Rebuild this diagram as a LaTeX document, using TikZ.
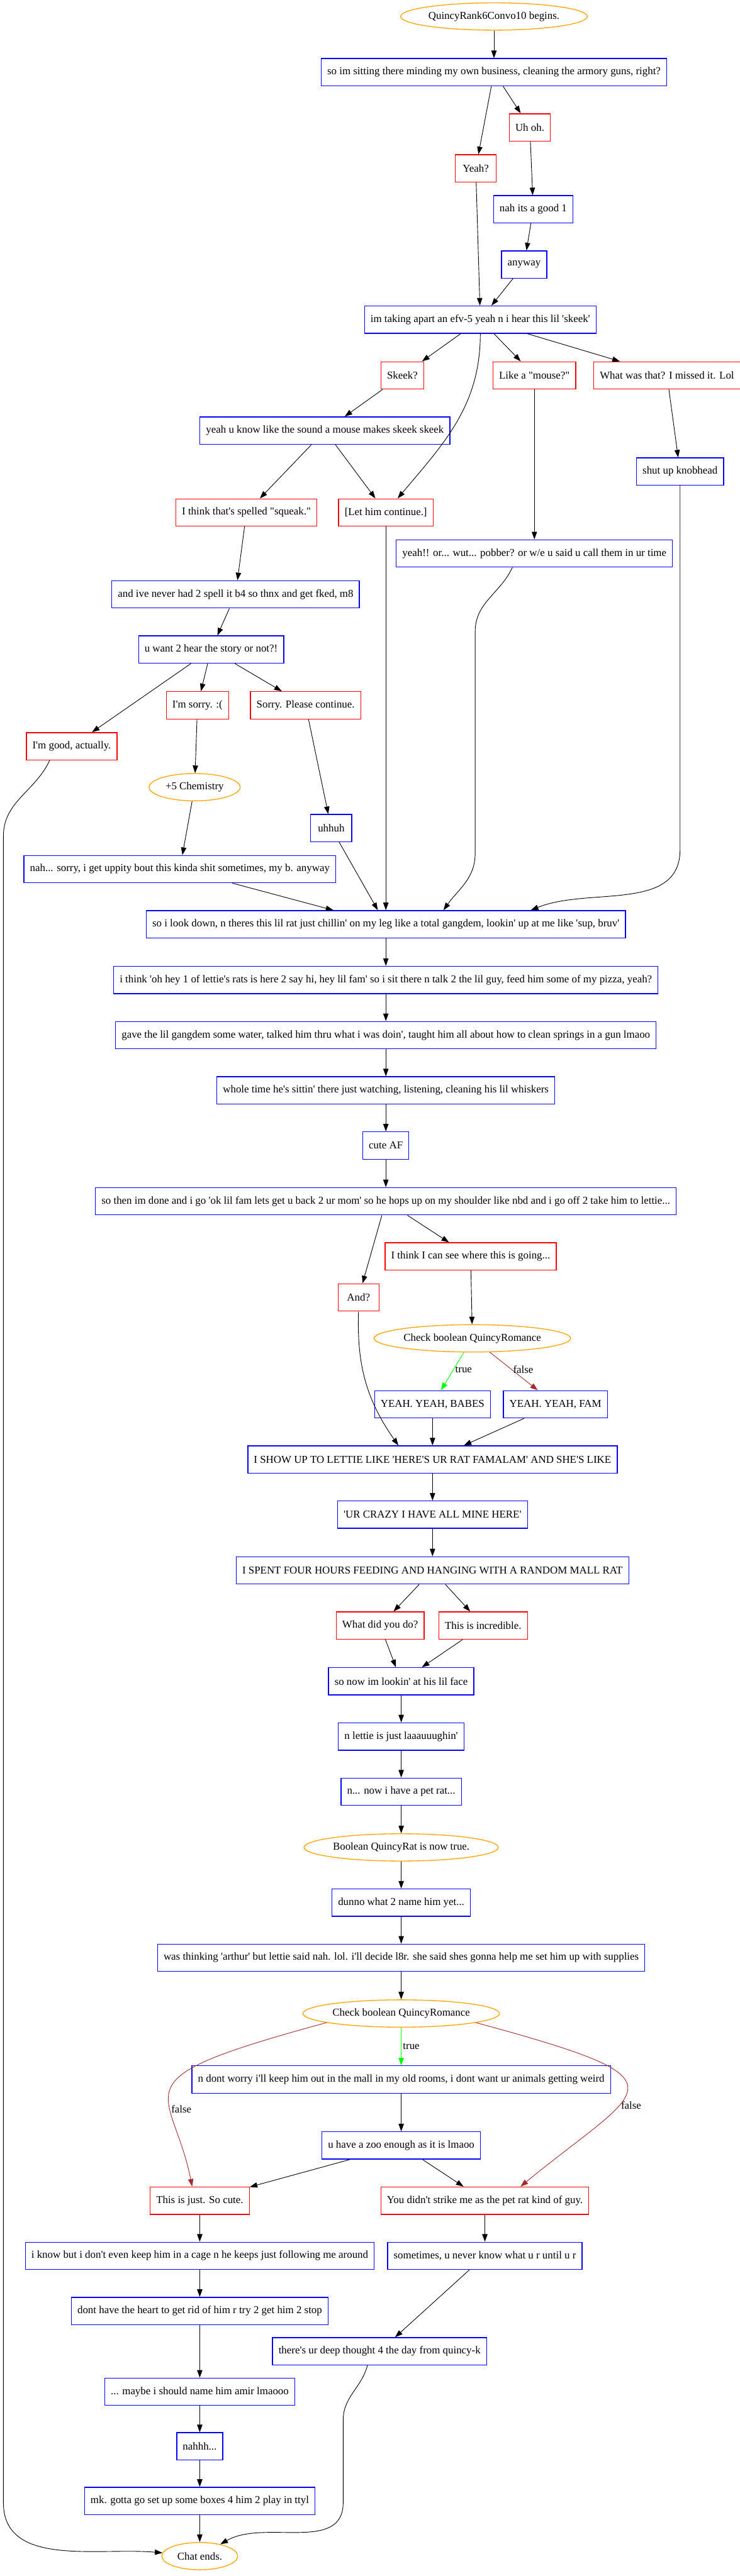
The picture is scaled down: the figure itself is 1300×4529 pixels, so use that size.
\documentclass[tikz,border=0pt]{standalone}
\usepackage{fontspec}
\newfontfamily\gvfont{Liberation Serif}
\usetikzlibrary{arrows.meta,shapes.geometric}

\definecolor{gvorange}{HTML}{FFA500}
\definecolor{gvgreen}{HTML}{00FF00}
\definecolor{gvbrown}{HTML}{A52A2A}

\tikzset{
  quincy/.style={draw=blue, line width=1.1pt, rectangle, minimum height=36pt,
    minimum width=54pt, inner xsep=8pt, inner ysep=2pt,
    font=\gvfont\fontsize{14pt}{16pt}\selectfont},
  player/.style={quincy, draw=red},
  event/.style={ellipse, draw=gvorange, line width=1.1pt, minimum height=36pt,
    inner sep=0pt, font=\gvfont\fontsize{14pt}{16pt}\selectfont},
  arr/.style={-{Triangle[length=10pt,width=7pt]}, line width=0.75pt},
  truearr/.style={arr, color=gvgreen},
  falsearr/.style={arr, color=gvbrown},
  lbl/.style={text=black, inner sep=2pt, font=\gvfont\fontsize{14pt}{16pt}\selectfont}
}

\begin{document}
\begin{tikzpicture}[x=0.75pt,y=-0.75pt]
\useasboundingbox (0,0) rectangle (1300,4529);

% opening
\node[event,minimum width=246pt] (start) at (868,29) {QuincyRank6Convo10 begins.};
\node[quincy] (sit) at (868,127) {so im sitting there minding my own business, cleaning the armory guns, right?};
\node[player] (uhoh) at (931,224) {Uh oh.};
\node[player] (yeah) at (836,296) {Yeah?};
\node[quincy] (nahg) at (937,368) {nah its a good 1};
\node[quincy] (anyway) at (921,465) {anyway};
\node[quincy] (apart) at (844,562) {im taking apart an efv-5 yeah n i hear this lil 'skeek'};

% skeek replies
\node[player] (skeek) at (707,660) {Skeek?};
\node[player] (mouse) at (939,660) {Like a "mouse?"};
\node[player] (missed) at (1172,660) {What was that? I missed it. Lol};
\node[quincy] (sound) at (571,757) {yeah u know like the sound a mouse makes skeek skeek};
\node[quincy] (shut) at (1195,829) {shut up knobhead};
\node[player] (squeak) at (433,901) {I think that's spelled "squeak."};
\node[player] (letc) at (678,901) {[Let him continue.]};
\node[quincy] (pob) at (939,973) {yeah!! or... wut... pobber? or w/e u said u call them in ur time};
\node[quincy] (spell) at (414,1045) {and ive never had 2 spell it b4 so thnx and get fked, m8};
\node[quincy] (story) at (371,1142) {u want 2 hear the story or not?!};
\node[player] (sorry) at (347,1240) {I'm sorry. :(};
\node[player] (pls) at (537,1240) {Sorry. Please continue.};
\node[player] (good) at (126,1312) {I'm good, actually.};
\node[event,minimum width=120pt] (chem) at (342,1384) {+5 Chemistry};
\node[quincy] (uhhuh) at (582,1456) {uhhuh};
\node[quincy] (uppity) at (316,1528) {nah... sorry, i get uppity bout this kinda shit sometimes, my b. anyway};

% the rat story
\node[quincy] (look) at (678,1625) {so i look down, n theres this lil rat just chillin' on my leg like a total gangdem, lookin' up at me like 'sup, bruv'};
\node[quincy] (pizza) at (678,1723) {i think 'oh hey 1 of lettie's rats is here 2 say hi, hey lil fam' so i sit there n talk 2 the lil guy, feed him some of my pizza, yeah?};
\node[quincy] (water) at (678,1820) {gave the lil gangdem some water, talked him thru what i was doin', taught him all about how to clean springs in a gun lmaoo};
\node[quincy] (whisk) at (678,1917) {whole time he's sittin' there just watching, listening, cleaning his lil whiskers};
\node[quincy] (cute) at (678,2014) {cute AF};
\node[quincy] (shoulder) at (678,2112) {so then im done and i go 'ok lil fam lets get u back 2 ur mom' so he hops up on my shoulder like nbd and i go off 2 take him to lettie...};
\node[player] (going) at (827,2209) {I think I can see where this is going...};
\node[player] (and) at (630,2281) {And?};
\node[event,minimum width=259pt] (check) at (830,2353) {Check boolean QuincyRomance};
\node[quincy] (babes) at (760,2469) {YEAH. YEAH, BABES};
\node[quincy] (fam) at (976,2469) {YEAH. YEAH, FAM};
\node[quincy] (show) at (760,2566) {I SHOW UP TO LETTIE LIKE 'HERE'S UR RAT FAMALAM' AND SHE'S LIKE};
\node[quincy] (crazy) at (760,2663) {'UR CRAZY I HAVE ALL MINE HERE'};
\node[quincy] (hours) at (760,2761) {I SPENT FOUR HOURS FEEDING AND HANGING WITH A RANDOM MALL RAT};
\node[player] (whatdid) at (668,2858) {What did you do?};
\node[player] (incred) at (849,2858) {This is incredible.};
\node[quincy] (face) at (705,2956) {so now im lookin' at his lil face};
\node[quincy] (laugh) at (705,3053) {n lettie is just laaauuughin'};
\node[quincy] (petrat) at (705,3150) {n... now i have a pet rat...};
\node[event,minimum width=256pt] (ratbool) at (705,3248) {Boolean QuincyRat is now true.};
\node[quincy] (dunno) at (705,3345) {dunno what 2 name him yet...};
\node[quincy] (arthur) at (705,3442) {was thinking 'arthur' but lettie said nah. lol. i'll decide l8r. she said shes gonna help me set him up with supplies};
\node[event,minimum width=259pt] (checkb) at (705,3540) {Check boolean QuincyRomance};

% ending
\node[quincy] (worry) at (705,3656) {n dont worry i'll keep him out in the mall in my old rooms, i dont want ur animals getting weird};
\node[quincy] (zoo) at (705,3772) {u have a zoo enough as it is lmaoo};
\node[player] (socute) at (351,3869) {This is just. So cute.};
\node[player] (strike) at (852,3869) {You didn't strike me as the pet rat kind of guy.};
\node[quincy] (cage) at (351,3966) {i know but i don't even keep him in a cage n he keeps just following me around};
\node[quincy] (never) at (852,3966) {sometimes, u never know what u r until u r};
\node[quincy] (heart) at (351,4063) {dont have the heart to get rid of him r try 2 get him 2 stop};
\node[quincy] (deep) at (667,4134) {there's ur deep thought 4 the day from quincy-k};
\node[quincy] (amir) at (351,4205) {... maybe i should name him amir lmaooo};
\node[quincy] (nahhh) at (351,4301) {nahhh...};
\node[quincy] (boxes) at (351,4397) {mk. gotta go set up some boxes 4 him 2 play in ttyl};
\node[event,minimum width=100pt] (chat) at (351,4494) {Chat ends.};

% straight edges
\foreach \a/\b in {start/sit, sit/yeah, sit/uhoh, uhoh/nahg, nahg/anyway, anyway/apart,
    yeah/apart, apart/skeek, apart/mouse, apart/missed, skeek/sound, sound/squeak,
    sound/letc, missed/shut, mouse/pob, squeak/spell, spell/story, story/good,
    story/sorry, story/pls, sorry/chem, chem/uppity, pls/uhhuh, uhhuh/look,
    uppity/look, letc/look, look/pizza, pizza/water, water/whisk, whisk/cute,
    cute/shoulder, shoulder/and, shoulder/going, going/check, babes/show, fam/show,
    show/crazy, crazy/hours, hours/whatdid, hours/incred, whatdid/face, incred/face,
    face/laugh, laugh/petrat, petrat/ratbool, ratbool/dunno, dunno/arthur,
    arthur/checkb, worry/zoo, zoo/socute, zoo/strike, socute/cage, strike/never,
    cage/heart, heart/amir, amir/nahhh, nahhh/boxes, boxes/chat, never/deep}{
    \draw[arr] (\a) -- (\b);
}

% curved edges
\draw[arr] (apart) to[out=-90,in=50] (letc);
\draw[arr] ([xshift=-29pt]pob.south) to[out=-115,in=90] (835,1110) -- (835,1500)
    to[out=-90,in=55] ([xshift=76pt]look.north);
\draw[arr] (shut.south) -- ++(0,640) to[out=-90,in=22] ([xshift=191pt]look.north);
\draw[arr] ([xshift=-29pt]good.south) to[out=-115,in=90] (6,1470) -- (6,4400)
    to[out=-90,in=175] (chat);
\draw[arr] (and.south) to[out=-92,in=125] ([xshift=-45pt]show.north);
\draw[arr] ([xshift=-16pt]deep.south) to[out=-105,in=90] (603,4255) -- (603,4400)
    to[out=-90,in=30] (chat);

% boolean checks
\draw[truearr] (check) -- node[lbl,right,pos=0.45] {true} (babes);
\draw[falsearr] (check) -- node[lbl,right,pos=0.45] {false} (fam);
\draw[truearr] (checkb) -- node[lbl,right,pos=0.5] {true} (worry);
\draw[falsearr] (checkb.187) .. controls (195,3659) and (302,3665) ..
    node[lbl,right,pos=0.65] {false} ([xshift=-10pt]socute.north);
\draw[falsearr] (checkb.353) .. controls (1224,3661) and (1131,3666) ..
    node[lbl,right,pos=0.62] {false} ([xshift=47pt]strike.north);

\end{tikzpicture}
\end{document}
